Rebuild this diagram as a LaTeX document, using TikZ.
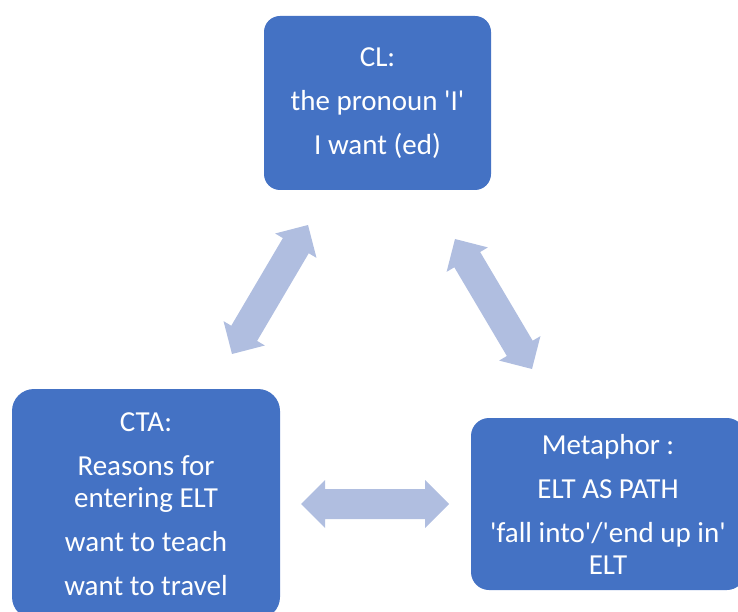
\documentclass[tikz,border=0pt]{standalone}
\usepackage{fontspec}
\setmainfont{Carlito}
\usetikzlibrary{calc}
\definecolor{boxblue}{RGB}{68,114,196}
\definecolor{arrowblue}{RGB}{176,190,224}
\newcommand{\q}{\textquotesingle}
% block arrow with a head at both ends, from tip #1 to tip #2
\newcommand{\blockarrow}[2]{%
  \fill[linkarrow] let \p1=($(#2)-(#1)$), \n1={atan2(\y1,\x1)}, \n2={veclen(\x1,\y1)-48pt} in
    (#1) -- ++(\n1+45:33.94pt) -- ++(\n1-90:9pt) -- ++(\n1:\n2) -- ++(\n1+90:9pt)
    -- (#2) -- ++(\n1+225:33.94pt) -- ++(\n1+90:9pt) -- ++(\n1+180:\n2) -- ++(\n1-90:9pt) -- cycle;}

\begin{document}
\begin{tikzpicture}[x=1pt, y=-1pt,
    box/.style={rectangle, fill=boxblue, text=white, align=center, inner sep=0pt,
      font=\fontsize{29}{32}\selectfont},
    linkarrow/.style={fill=arrowblue}]
  \useasboundingbox (0,0) rectangle (738,612);
  \clip (0,0) rectangle (738,612);

  \node[box, minimum width=227pt, minimum height=174pt, rounded corners=16pt] (cl) at (377.5,103)
    {CL:\\[12pt] the pronoun \q I\q\\[12pt] I want (ed)};
  \node[box, minimum width=268pt, minimum height=230pt, rounded corners=22pt] (cta) at (146,504)
    {CTA:\\[12pt] Reasons for\\ entering ELT\\[12pt] want to teach\\[12pt] want to travel};
  \node[box, minimum width=274pt, minimum height=172pt, rounded corners=18pt] (metaphor) at (608,504)
    {Metaphor :\\[12pt] ELT AS PATH\\[12pt] \q fall into\q/\q end up in\q\\ ELT};

  \coordinate (cl-cta) at (308,225);
  \coordinate (cta-cl) at (232,354);
  \coordinate (cl-metaphor) at (455,239);
  \coordinate (metaphor-cl) at (532,369);
  \coordinate (cta-metaphor) at (301,504);
  \coordinate (metaphor-cta) at (449,504);

  \blockarrow{cl-cta}{cta-cl}
  \blockarrow{cl-metaphor}{metaphor-cl}
  \blockarrow{cta-metaphor}{metaphor-cta}
\end{tikzpicture}
\end{document}
